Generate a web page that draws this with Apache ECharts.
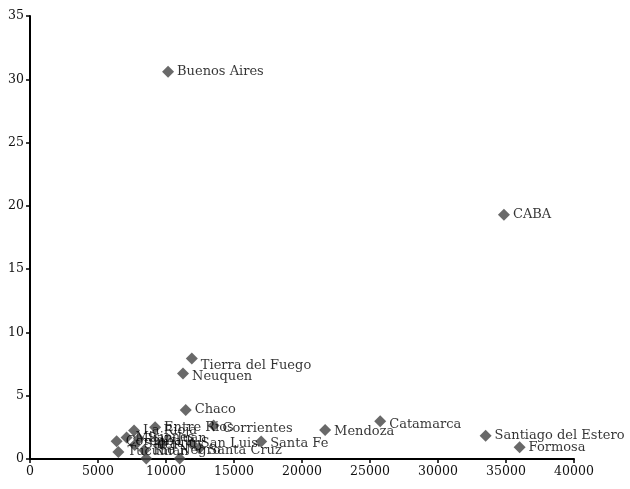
<!DOCTYPE html>
<html><head><meta charset="utf-8">
<script src="https://cdn.jsdelivr.net/npm/echarts@6/dist/echarts.min.js"></script>
<style>html,body{margin:0;padding:0;background:#fff}#c{width:630px;height:489px}</style>
</head><body><div id="c"></div>
<script>
const names = ["Buenos Aires","CABA","Tierra del Fuego","Neuquen","Chaco","Corrientes","Catamarca","Mendoza","Santiago del Estero","Formosa","Santa Fe","San Luis","Santa Cruz","Cordoba","Tucuman","Misiones","La Rioja","Salta","Rio Negro","Chubut","San Juan","Entre Rios","Jujuy","La Pampa"];
const xValues = [10150,34850,11900,11250,11450,13500,25750,21700,33500,36000,17000,11900,12450,6370,6500,7100,7650,7700,8400,8550,8000,9200,9700,11000];
const yValues = [30.6,19.3,7.95,6.75,3.87,2.65,2.98,2.3,1.83,0.93,1.38,1.2,0.85,1.4,0.55,1.7,2.25,1.1,0.7,0.03,1.6,2.5,1.2,0.03];
const xTicks = [0,5000,10000,15000,20000,25000,30000,35000,40000];
const yTicks = [0,5,10,15,20,25,30,35];
const hiddenLabels = ["Chubut","La Pampa"];

// label nudges (px), style only
const labelNudge = {"Tierra del Fuego":[0,7],"Neuquen":[0,3],"Corrientes":[0,3],"Catamarca":[0,3],"Mendoza":[0,2],"Santa Cruz":[0,2],"Santa Fe":[0,2]};

const font = "DejaVu Serif";
const data = names.map((n,i)=>({name:n,value:[xValues[i],yValues[i]],
  label:{show: hiddenLabels.indexOf(n) < 0, offset: labelNudge[n] || [0,0]}}));
const chart = echarts.init(document.getElementById('c'));
const axisCommon = {
  axisLine:{show:true,lineStyle:{color:'#000',width:2}},
  axisTick:{show:true,length:4,lineStyle:{color:'#000',width:1.5}},
  splitLine:{show:false}
};
chart.setOption({
  animation:false,
  grid:{left:30,right:56,top:16,bottom:30},
  xAxis:Object.assign({type:'value',min:xTicks[0],max:xTicks[xTicks.length-1],interval:5000},axisCommon,
    {axisLabel:{color:'#111',fontFamily:font,fontSize:12.5,margin:6,formatter:v=>String(v)}}),
  yAxis:Object.assign({type:'value',min:yTicks[0],max:yTicks[yTicks.length-1],interval:5},axisCommon,
    {axisLabel:{color:'#111',fontFamily:font,fontSize:12.5,margin:6,formatter:v=>String(v)}}),
  series:[{
    type:'scatter',symbol:'diamond',symbolSize:12,
    itemStyle:{color:'#444'},
    label:{show:true,position:'right',distance:3,formatter:'{b}',color:'#000',fontFamily:font,fontSize:13},
    data:data
  }]
});
</script></body></html>
